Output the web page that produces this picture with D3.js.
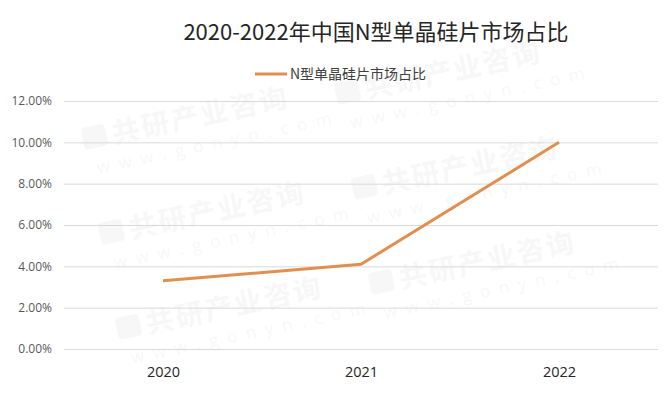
<!DOCTYPE html>
<html>
<head>
<meta charset="utf-8">
<script src="https://cdn.jsdelivr.net/npm/d3@7"></script>
<style>
  body { margin: 0; background: #fff; }
  svg { display: block; }
</style>
</head>
<body>
<svg id="root"></svg>
<script>
// data
const years = ["2020", "2021", "2022"]
const share = [0.033, 0.041, 0.100]
const yTicks = [0, 0.02, 0.04, 0.06, 0.08, 0.10, 0.12]
const title = "2020-2022年中国N型单晶硅片市场占比"
const seriesName = "N型单晶硅片市场占比"

const W = 669, H = 394
const lineColor = "#e08f4f"
const cjk = "'Noto Sans CJK SC', 'Noto Sans', sans-serif"
const latin = "'Open Sans', 'Noto Sans', sans-serif"

const svg = d3.select("#root").attr("width", W).attr("height", H)

// scales
const x = d3.scalePoint(years, [64, 658]).padding(0.5)
const y = d3.scaleLinear([0, 0.12], [349, 101])

// faint watermark tiles (only the ones that sit fully inside)
const wm = svg.append("g").attr("pointer-events", "none")
for (let a = -3; a <= 3; a++) {
  for (let b = -1; b <= 2; b++) {
    const px = 85 + a * 17 + b * 270
    const py = 150 + a * 95 + b * 50
    if (px < 0 || px + 225 > W || py < 70 || py + 30 > H) continue
    const g = wm.append("g")
      .attr("transform", `translate(${px},${py}) rotate(-12)`)
      .attr("opacity", 0.028)
    g.append("rect")
      .attr("x", 0).attr("y", -22)
      .attr("width", 24).attr("height", 22)
      .attr("rx", 4)
      .attr("fill", "#000")
    g.append("text")
      .attr("x", 30).attr("y", 0)
      .attr("fill", "#000")
      .style("font-family", cjk)
      .style("font-weight", "bold")
      .style("font-size", "28px")
      .style("letter-spacing", "2px")
      .text("共研产业咨询")
    g.append("text")
      .attr("x", 8).attr("y", 26)
      .attr("fill", "#000")
      .style("font-family", latin)
      .style("font-size", "17px")
      .style("letter-spacing", "9px")
      .text("www.gonyn.com")
  }
}

// gridlines + y labels
const yAxis = d3.axisLeft(y)
  .tickValues(yTicks)
  .tickFormat(d3.format(".2%"))
  .tickSize(-(658 - 64))
  .tickPadding(12)

const gy = svg.append("g")
  .attr("transform", "translate(64,0)")
  .call(yAxis)
gy.select(".domain").remove()
gy.selectAll(".tick line").attr("stroke", "#d9d9d9").attr("stroke-width", 1)
gy.selectAll(".tick text")
  .attr("fill", "#595959")
  .style("font-family", latin)
  .style("font-size", "12px")

// x labels
const xAxis = d3.axisBottom(x).tickSize(0).tickPadding(18)
const gx = svg.append("g")
  .attr("transform", "translate(0,349)")
  .call(xAxis)
gx.select(".domain").remove()
gx.selectAll(".tick text")
  .attr("fill", "#262626")
  .style("font-family", latin)
  .style("font-size", "14.5px")

// the series line
const line = d3.line()
  .x((d, i) => x(years[i]))
  .y(d => y(d))
svg.append("path")
  .datum(share)
  .attr("fill", "none")
  .attr("stroke", lineColor)
  .attr("stroke-width", 3)
  .attr("stroke-linejoin", "round")
  .attr("d", line)

// title
svg.append("text")
  .attr("x", 376)
  .attr("y", 40)
  .attr("text-anchor", "middle")
  .attr("fill", "#262626")
  .style("font-family", cjk)
  .style("font-size", "22px")
  .text(title)

// legend
svg.append("line")
  .attr("x1", 255).attr("x2", 287)
  .attr("y1", 74).attr("y2", 74)
  .attr("stroke", lineColor)
  .attr("stroke-width", 3)
svg.append("text")
  .attr("x", 290)
  .attr("y", 79)
  .attr("fill", "#404040")
  .style("font-family", cjk)
  .style("font-size", "14px")
  .text(seriesName)
</script>
</body>
</html>
